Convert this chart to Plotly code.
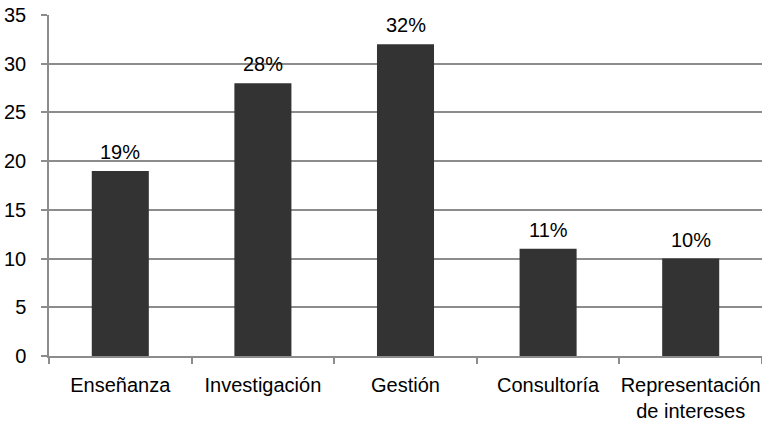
import plotly.graph_objects as go

categories = ["Enseñanza", "Investigación", "Gestión", "Consultoría", "Representación<br>de intereses"]
values = [19, 28, 32, 11, 10]
labels = ["19%", "28%", "32%", "11%", "10%"]
y_ticks = [0, 5, 10, 15, 20, 25, 30, 35]

FONT = "Liberation Sans, Arial, sans-serif"
GRID = "#8c8c8c"
TEXT = "#000000"

fig = go.Figure(
    go.Bar(
        x=categories,
        y=values,
        marker=dict(color="#333333", line=dict(width=0)),
        width=0.4,
        hoverinfo="skip",
    )
)

for cat, v, lab in zip(categories, values, labels):
    fig.add_annotation(
        x=cat, y=v, text=lab, showarrow=False,
        yanchor="bottom", yshift=6,
        font=dict(family=FONT, size=20, color=TEXT),
    )

fig.update_layout(
    width=762, height=422,
    margin=dict(l=49, r=0, t=15, b=66),
    paper_bgcolor="white", plot_bgcolor="white",
    showlegend=False,
    font=dict(family=FONT, size=20, color=TEXT),
    bargap=0.6,
)
fig.update_xaxes(
    type="category",
    showgrid=False,
    showline=True, linecolor=GRID, linewidth=1.5,
    ticks="outside", tickson="boundaries", ticklen=6, tickcolor=GRID, tickwidth=1.5,
    tickfont=dict(family=FONT, size=20, color=TEXT),
    tickangle=0,
    ticklabelstandoff=10,
    automargin=False,
    fixedrange=True,
)
fig.update_yaxes(
    range=[0, 35], tickvals=y_ticks,
    showgrid=True, gridcolor=GRID, gridwidth=1.5,
    showline=True, linecolor=GRID, linewidth=1.5,
    ticks="outside", ticklen=6, tickcolor=GRID, tickwidth=1.5,
    tickfont=dict(family=FONT, size=20, color=TEXT),
    ticklabelstandoff=11,
    automargin=False,
    zeroline=False,
    fixedrange=True,
)

fig.write_html("out.html")
